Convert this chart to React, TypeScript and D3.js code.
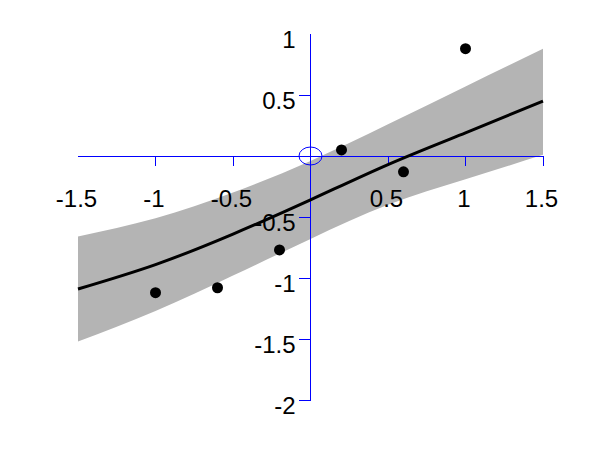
import React from "react";
import * as d3 from "d3";

// observations
const obsX = [-1, -0.6, -0.2, 0.2, 0.6, 1.0];
const obsY = [-1.12, -1.08, -0.77, 0.05, -0.13, 0.88];

// fitted mean and band, read at these x
const fitX = [-1.5, -1, -0.5, 0, 0.5, 1, 1.5];
const fitMean = [-1.09, -0.89, -0.64, -0.36, -0.07, 0.19, 0.45];
const fitUpper = [-0.66, -0.51, -0.3, -0.04, 0.26, 0.57, 0.88];
const fitLower = [-1.52, -1.27, -0.98, -0.68, -0.4, -0.19, 0.01];

// ticks
const xTicks = [-1, -0.5, 0.5, 1, 1.5];
const xLabels = [-1.5, -1, -0.5, 0.5, 1, 1.5];
const yTicks = [0.5, -0.5, -1, -1.5, -2];
const yLabels = [1, 0.5, -0.5, -1, -1.5, -2];

export default function App() {
  const x = d3.scaleLinear().domain([-1.5, 1.5]).range([78, 543]);
  const y = d3.scaleLinear().domain([-2, 1]).range([400, 34]);

  const idx = fitX.map((_, i) => i);
  const area = d3
    .area<number>()
    .x((i) => x(fitX[i]))
    .y0((i) => y(fitLower[i]))
    .y1((i) => y(fitUpper[i]))
    .curve(d3.curveNatural);
  const line = d3
    .line<number>()
    .x((i) => x(fitX[i]))
    .y((i) => y(fitMean[i]))
    .curve(d3.curveNatural);

  const blue = "#0000ff";
  const font = "'Liberation Sans', Arial, sans-serif";
  const fmt = (v: number) => String(v);

  return (
    <svg
      width={600}
      height={450}
      style={{ position: "absolute", left: 0, top: 0, background: "#fff" }}
    >
      <path d={area(idx) || ""} fill="#b4b4b4" stroke="none" />
      {/* axes */}
      <g stroke={blue} strokeWidth={1} shapeRendering="crispEdges">
        <line x1={x(-1.5)} x2={x(1.5)} y1={y(0)} y2={y(0)} />
        <line x1={x(0)} x2={x(0)} y1={y(1)} y2={y(-2)} />
        {xTicks.map((t) => (
          <line key={"xt" + t} x1={x(t)} x2={x(t)} y1={y(0)} y2={y(0) + 10} />
        ))}
        {yTicks.map((t) => (
          <line key={"yt" + t} x1={x(0) - 12} x2={x(0)} y1={y(t)} y2={y(t)} />
        ))}
      </g>
      <ellipse
        cx={x(0)}
        cy={y(0)}
        rx={11.5}
        ry={9}
        fill="none"
        stroke={blue}
        strokeWidth={1}
      />
      <path d={line(idx) || ""} fill="none" stroke="#000" strokeWidth={3} />
      {obsX.map((v, i) => (
        <circle key={"p" + i} cx={x(v)} cy={y(obsY[i])} r={5.5} fill="#000" />
      ))}
      <g fontFamily={font} fontSize={24} fill="#000">
        {xLabels.map((t) => (
          <text key={"xl" + t} x={x(t) - 1.5} y={y(0) + 50.7} textAnchor="middle">
            {fmt(t)}
          </text>
        ))}
        {yLabels.map((t) => (
          <text key={"yl" + t} x={x(0) - 15} y={y(t) + 13.5} textAnchor="end">
            {fmt(t)}
          </text>
        ))}
      </g>
    </svg>
  );
}
